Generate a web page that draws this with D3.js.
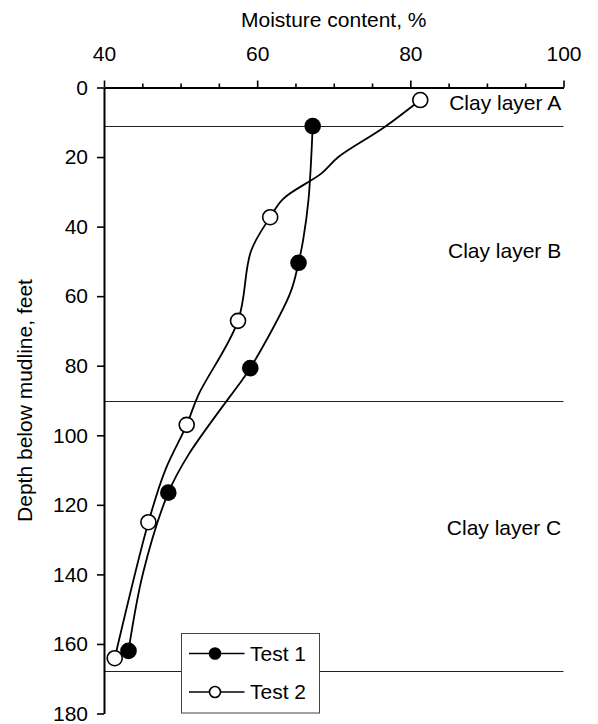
<!DOCTYPE html>
<html>
<head>
<meta charset="utf-8">
<title>Moisture content profile</title>
<script src="https://d3js.org/d3.v7.min.js"></script>
<style>
body {
	margin: 0;
	background-color: white;
}
svg {
	display: block;
	font-family: "Liberation Sans", Arial, sans-serif;
}
.axis path, .axis line {
	stroke: black;
}
.axis path {
	stroke-width: 2;
}
.axis line {
	stroke-width: 1.6;
}
.axis text {
	font-family: "Liberation Sans", Arial, sans-serif;
	font-size: 21px;
	fill: black;
}
.boundary {
	stroke: #222;
	stroke-width: 1;
}
.profile {
	fill: none;
	stroke: black;
	stroke-width: 1.8;
}
</style>
<script>
// marker points: depth (feet), moisture (%)
const test1Depth = [11.1, 50.4, 80.7, 116.5, 162.0];
const test1Moist = [67.25, 65.4, 59.1, 48.4, 43.2];
const test2Depth = [3.6, 37.3, 67.1, 97.0, 125.0, 164.1];
const test2Moist = [81.3, 61.7, 57.5, 50.8, 45.8, 41.4];

// the drawn profile lines pass through a few more points than the markers
const test1LineDepth = [11.1, 32.3, 43.9, 50.4, 59.2, 80.7, 83.6, 105.7, 116.5, 139.6, 162.0];
const test1LineMoist = [67.25, 66.7, 66.0, 65.4, 64.3, 59.1, 58.2, 51.0, 48.4, 45.1, 43.2];
const test2LineDepth = [3.6, 11.6, 20.0, 24.7, 32.0, 37.3, 47.0, 67.1, 88.5, 97.0, 110.0, 125.0, 164.1];
const test2LineMoist = [81.3, 76.5, 70.6, 68.4, 63.4, 61.7, 59.2, 57.5, 52.3, 50.8, 48.0, 45.8, 41.4];

// layer boundaries and labels
const boundaryDepths = [11.2, 90.1, 167.8];
const layerNames = ["Clay layer A", "Clay layer B", "Clay layer C"];
const layerLabelDepths = [4.4, 46.9, 126.5];

const xTicks = [40, 60, 80, 100];
const xMinorTicks = [45, 50, 55, 65, 70, 75, 85, 90, 95];
const yTicks = [0, 20, 40, 60, 80, 100, 120, 140, 160, 180];

const seriesNames = ["Test 1", "Test 2"];
</script>
</head>
<body>
<div id="graph"></div>
<script>
(function() {
"use strict";

const W = 598, H = 724;
const x = d3.scaleLinear([40, 100], [104, 563.5]);
const y = d3.scaleLinear([0, 180], [87.5, 713.5]);

const svg = d3.select("#graph").append("svg")
	.attr("width", W)
	.attr("height", H);

svg.append("rect").attr("width", W).attr("height", H).attr("fill", "white");

// layer boundaries
svg.selectAll("line.boundary")
	.data(boundaryDepths)
	.join("line")
	.attr("class", "boundary")
	.attr("x1", x(40)).attr("x2", x(100))
	.attr("y1", d => Math.round(y(d)) + 0.5)
	.attr("y2", d => Math.round(y(d)) + 0.5);

svg.selectAll("text.layer")
	.data(layerNames)
	.join("text")
	.attr("class", "layer")
	.attr("x", x(99.7))
	.attr("y", (d, i) => y(layerLabelDepths[i]))
	.attr("dy", "0.35em")
	.attr("text-anchor", "end")
	.attr("font-size", 21)
	.text(d => d);

// axes
svg.append("g")
	.attr("class", "axis")
	.attr("transform", "translate(0," + y(0) + ")")
	.call(d3.axisTop(x).tickValues(xMinorTicks).tickSize(4).tickSizeOuter(0).tickFormat(""))
	.call(g => g.select(".domain").remove());
svg.append("g")
	.attr("class", "axis")
	.attr("transform", "translate(0," + y(0) + ")")
	.call(d3.axisTop(x).tickValues(xTicks).tickSize(7).tickSizeOuter(0).tickPadding(20));
svg.append("g")
	.attr("class", "axis")
	.attr("transform", "translate(" + x(40) + ",0)")
	.call(d3.axisLeft(y).tickValues(yTicks).tickSize(7).tickSizeOuter(0).tickPadding(9));

svg.append("text")
	.attr("x", (x(40) + x(100)) / 2)
	.attr("y", 27)
	.attr("text-anchor", "middle")
	.attr("font-size", 21)
	.text("Moisture content, %");

svg.append("text")
	.attr("transform", "translate(32," + ((y(0) + y(180)) / 2) + ") rotate(-90)")
	.attr("text-anchor", "middle")
	.attr("font-size", 21)
	.text("Depth below mudline, feet");

// profile lines
const line = d3.line()
	.x(d => x(d[1]))
	.y(d => y(d[0]))
	.curve(d3.curveCatmullRom.alpha(0.5));

const line1 = d3.zip(test1LineDepth, test1LineMoist);
const line2 = d3.zip(test2LineDepth, test2LineMoist);
svg.append("path").attr("class", "profile").attr("d", line(line1));
svg.append("path").attr("class", "profile").attr("d", line(line2));

svg.append("g").selectAll("circle")
	.data(d3.zip(test2Depth, test2Moist))
	.join("circle")
	.attr("cx", d => x(d[1]))
	.attr("cy", d => y(d[0]))
	.attr("r", 7.5)
	.attr("fill", "white")
	.attr("stroke", "black")
	.attr("stroke-width", 1.6);

svg.append("g").selectAll("circle")
	.data(d3.zip(test1Depth, test1Moist))
	.join("circle")
	.attr("cx", d => x(d[1]))
	.attr("cy", d => y(d[0]))
	.attr("r", 8.3)
	.attr("fill", "black");

// legend
const legend = svg.append("g").attr("transform", "translate(181.5,633.5)");
legend.append("rect")
	.attr("width", 138).attr("height", 79.5)
	.attr("fill", "white")
	.attr("stroke", "#444")
	.attr("stroke-width", 1);
const item = legend.selectAll("g")
	.data(seriesNames)
	.join("g")
	.attr("transform", (d, i) => "translate(0," + (20 + i * 38.5) + ")");
item.append("line")
	.attr("x1", 7.5).attr("x2", 63)
	.attr("stroke", "black").attr("stroke-width", 1.6);
item.append("circle")
	.attr("cx", 33.5)
	.attr("r", (d, i) => i === 0 ? 6.3 : 5.5)
	.attr("fill", (d, i) => i === 0 ? "black" : "white")
	.attr("stroke", "black")
	.attr("stroke-width", (d, i) => i === 0 ? 0 : 1.6);
item.append("text")
	.attr("x", 68.5)
	.attr("dy", "0.35em")
	.attr("font-size", 21)
	.text(d => d);
})();
</script>
</body>
</html>
